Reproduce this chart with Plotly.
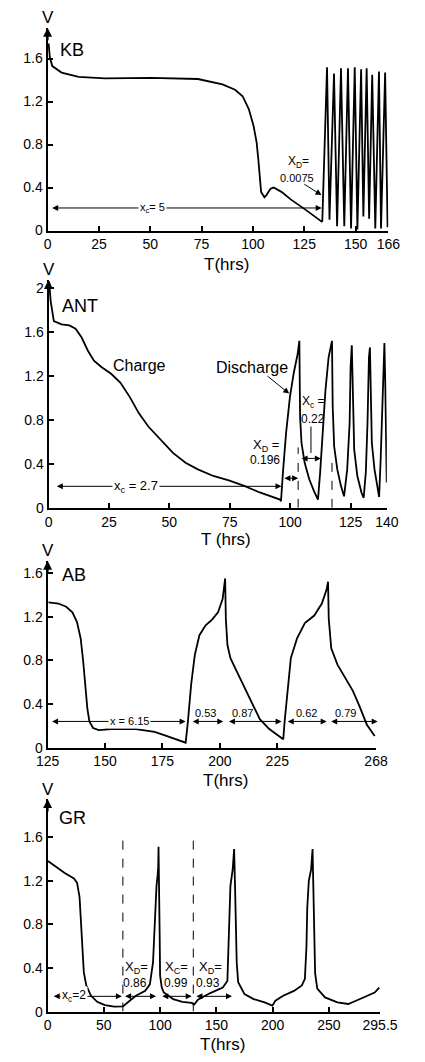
import plotly.graph_objects as go

# ---------------- data ----------------
kb_t = [0.5, 1.1, 2.3, 6.8, 15.1, 27.9, 50.5, 73.2, 85.2, 91.3, 95.0, 98.0, 100.3, 101.8, 102.6,
        103.3, 104.0, 105.6, 106.6, 108.6, 110.1, 113.9, 118.4, 125.9, 133.5,
        133.8, 136.1, 137.3, 139.5, 141.0, 142.9, 144.5, 146.3, 147.8, 149.6, 150.9, 152.7,
        153.8, 155.4, 156.6, 158.1, 159.6, 161.4, 162.4, 164.4, 165.6]
kb_v = [1.74, 1.61, 1.53, 1.47, 1.43, 1.415, 1.42, 1.41, 1.36, 1.31, 1.25, 1.13, 0.975, 0.82, 0.67,
        0.48, 0.36, 0.31, 0.33, 0.39, 0.40, 0.36, 0.29, 0.19, 0.083,
        0.09, 1.52, 0.10, 1.46, 0.04, 1.51, 0.04, 1.51, 0.02, 1.52, 0.01, 1.50,
        0.13, 1.51, 0.11, 1.45, 0.02, 1.48, 0.02, 1.47, 0.03]

ant_t = [0.26, 0.9, 2.2, 5.4, 8.6, 11.2, 13.7, 16.3, 18.8, 22.0, 25.9, 29.7, 33.6, 37.4, 41.3,
         46.4, 51.5, 56.7, 61.8, 68.2, 74.6, 81.0, 87.4, 95.8,
         96.2, 97.1, 98.3, 99.9, 101.5, 103.1, 103.8,
         104.1, 104.7, 106.0, 107.9, 109.9, 111.5,
         112.4, 113.5, 114.6, 115.9, 116.9, 117.3,
         117.6, 118.2, 119.5, 121.0, 122.3,
         123.6, 124.6, 125.0, 125.5,
         125.9, 126.5, 127.8, 129.5, 130.4,
         131.3, 132.0, 132.6, 133.0,
         133.3, 133.8, 134.9, 136.2, 136.8,
         137.4, 138.1, 138.7, 139.0,
         139.4, 139.6, 139.95]
ant_v = [2.06, 1.88, 1.70, 1.67, 1.66, 1.63, 1.55, 1.43, 1.34, 1.28, 1.22, 1.14, 1.01, 0.86, 0.74,
         0.62, 0.50, 0.41, 0.35, 0.29, 0.25, 0.20, 0.14, 0.075,
         0.06, 0.35, 0.68, 1.01, 1.23, 1.40, 1.52,
         0.83, 0.59, 0.41, 0.26, 0.15, 0.075,
         0.32, 0.71, 1.07, 1.37, 1.49, 1.52,
         0.92, 0.56, 0.35, 0.20, 0.105,
         0.35, 0.77, 1.28, 1.48,
         1.07, 0.53, 0.29, 0.14, 0.09,
         0.32, 0.77, 1.37, 1.46,
         1.07, 0.59, 0.35, 0.15, 0.10,
         0.41, 0.92, 1.40, 1.50,
         1.07, 0.59, 0.23]

ab_t = [125.4, 129.7, 133.1, 135.8, 137.8, 139.4, 140.5, 141.5, 142.3, 143.2, 144.8, 147.3, 152.7,
        163.5, 171.6, 177.0, 181.0, 185.1,
        186.1, 187.5, 189.1, 191.1, 193.8, 196.5, 199.2, 201.2, 202.3,
        202.6, 203.3, 204.6, 207.3, 210.7, 214.1, 217.4, 221.5, 225.5, 227.6,
        228.2, 229.6, 230.9, 233.6, 237.0, 241.1, 244.4, 246.5, 247.1,
        247.4, 248.5, 251.2, 254.6, 257.9, 260.6, 264.0, 267.4]
ab_v = [1.33, 1.32, 1.29, 1.24, 1.15, 1.00, 0.79, 0.55, 0.36, 0.24, 0.18, 0.16, 0.17,
        0.17, 0.145, 0.106, 0.076, 0.045,
        0.24, 0.58, 0.85, 1.03, 1.12, 1.17, 1.24, 1.36, 1.55,
        1.18, 0.94, 0.82, 0.70, 0.55, 0.39, 0.26, 0.17, 0.106, 0.076,
        0.24, 0.58, 0.82, 1.00, 1.14, 1.21, 1.32, 1.45, 1.52,
        1.18, 0.91, 0.76, 0.64, 0.52, 0.39, 0.21, 0.106]

gr_t = [0.3, 6.9, 15.2, 23.4, 26.2, 28.4, 29.5, 30.6, 32.2, 34.4, 38.6, 44.1, 51.0, 59.2, 67.0,
        73.0, 78.5, 86.8, 90.9, 93.7, 94.8, 95.6, 96.8, 97.8, 98.3, 98.6,
        99.2, 99.6, 100.0, 101.5, 103.3, 111.6, 119.8, 128.1, 130.3,
        133.6, 144.6, 155.7, 159.8, 161.0, 161.7, 162.5, 164.5, 165.8,
        166.6, 167.2, 168.1, 169.4, 175.0, 183.2, 192.9, 199.8,
        202.5, 209.4, 219.0, 226.0, 228.7, 230.1, 230.8, 232.2, 234.2, 235.5,
        236.2, 236.9, 237.8, 239.7, 246.6, 257.6, 267.3, 274.1, 283.8, 290.7, 294.8]
gr_v = [1.38, 1.33, 1.27, 1.22, 1.18, 1.05, 0.87, 0.63, 0.36, 0.24, 0.145, 0.09, 0.06, 0.045, 0.048,
        0.10, 0.145, 0.19, 0.25, 0.45, 0.75, 1.00, 1.15, 1.25, 1.32, 1.51,
        1.18, 0.72, 0.33, 0.22, 0.175, 0.115, 0.09, 0.08, 0.065,
        0.11, 0.17, 0.22, 0.28, 0.60, 0.95, 1.15, 1.30, 1.49,
        1.15, 0.75, 0.45, 0.27, 0.16, 0.115, 0.085, 0.055,
        0.10, 0.145, 0.19, 0.24, 0.30, 0.60, 0.95, 1.20, 1.30, 1.49,
        1.15, 0.60, 0.35, 0.21, 0.13, 0.085, 0.07, 0.10, 0.145, 0.175, 0.22]

panel_names = ["KB", "ANT", "AB", "GR"]
kb_xticks = [0, 25, 50, 75, 100, 125, 150, 166]
ant_xticks = [0, 25, 50, 75, 100, 125, 140]
ab_xticks = [125, 150, 175, 200, 225, 268]
gr_xticks = [0, 50, 100, 150, 200, 250, 295.5]
v_ticks = [0, 0.4, 0.8, 1.2, 1.6]
v_ticks_ant = [0, 0.4, 0.8, 1.2, 1.6, 2]

# ---------------- layout geometry (pixels) ----------------
W, H = 425, 1062
FONT = "Liberation Sans, Arial, sans-serif"
geo = [
    dict(x0=38.3, x1=405.0, y0=232.3, yt=28.0, s=108.3, xr=[0, 166], xt=kb_xticks, yv=v_ticks),
    dict(x0=39.3, x1=403.3, y0=511.7, yt=282.0, s=110.7, xr=[0, 140], xt=ant_xticks, yv=v_ticks_ant),
    dict(x0=38.3, x1=391.7, y0=753.3, yt=565.0, s=110.0, xr=[125, 268], xt=ab_xticks, yv=v_ticks),
    dict(x0=38.3, x1=396.0, y0=1019.3, yt=805.0, s=110.0, xr=[0, 295.5], xt=gr_xticks, yv=v_ticks),
]
series = [(kb_t, kb_v), (ant_t, ant_v), (ab_t, ab_v), (gr_t, gr_v)]

fig = go.Figure()
layout = dict(width=W, height=H, margin=dict(l=0, r=0, t=0, b=0),
              paper_bgcolor="white", plot_bgcolor="white", showlegend=False,
              font=dict(family=FONT, color="black"))
annotations = []
shapes = []


def fmt(v):
    return "%g" % v


for i, (g, (tt, vv)) in enumerate(zip(geo, series), start=1):
    sx = "" if i == 1 else str(i)
    xa, ya = "x" + sx, "y" + sx
    ytop = (g["y0"] - g["yt"]) / g["s"]
    fig.add_trace(go.Scatter(x=tt, y=vv, mode="lines", xaxis=xa, yaxis=ya,
                             line=dict(color="black", width=1.8), hoverinfo="skip"))
    common = dict(showline=True, linecolor="black", linewidth=2, ticks="inside", ticklen=5,
                  tickwidth=1.5, tickcolor="black", showgrid=False, zeroline=False,
                  tickfont=dict(size=14, family=FONT, color="black"), fixedrange=True)
    layout["xaxis" + sx] = dict(domain=[g["x0"] / W, g["x1"] / W], range=g["xr"], anchor=ya,
                                tickmode="array", tickvals=g["xt"], ticktext=[fmt(v) for v in g["xt"]],
                                **common)
    layout["yaxis" + sx] = dict(domain=[1 - g["y0"] / H, 1 - g["yt"] / H], range=[0, ytop], anchor=xa,
                                tickmode="array", tickvals=g["yv"], ticktext=[fmt(v) for v in g["yv"]],
                                **common)
    # arrow at top of the V axis
    annotations.append(dict(x=g["xr"][0], y=ytop, xref=xa, yref=ya, ax=0, ay=14, text="",
                            showarrow=True, arrowhead=2, arrowsize=0.9, arrowwidth=2, arrowcolor="black"))
    # V label
    annotations.append(dict(x=(g["x0"] + 0.5) / W, y=1 - (g["yt"] - 10) / H, xref="paper", yref="paper",
                            text="V", showarrow=False, font=dict(size=17), xanchor="center", yanchor="middle"))


def txt(i, x, y, s, size=12, bg=None, xanchor="center"):
    sx = "" if i == 1 else str(i)
    d = dict(x=x, y=y, xref="x" + sx, yref="y" + sx, text=s, showarrow=False,
             font=dict(size=size, family=FONT, color="black"), xanchor=xanchor, yanchor="middle")
    if bg:
        d["bgcolor"] = bg
        d["borderpad"] = 1
    annotations.append(d)


def span(i, t0, t1, v):
    sx = "" if i == 1 else str(i)
    annotations.append(dict(x=t1, y=v, ax=t0, ay=v, xref="x" + sx, yref="y" + sx,
                            axref="x" + sx, ayref="y" + sx, text="", showarrow=True,
                            arrowhead=2, arrowsize=1.2, startarrowhead=2, startarrowsize=1.2,
                            arrowside="end+start", arrowwidth=1, arrowcolor="black"))


def arrow(i, t0, v0, t1, v1):
    sx = "" if i == 1 else str(i)
    annotations.append(dict(x=t1, y=v1, ax=t0, ay=v0, xref="x" + sx, yref="y" + sx,
                            axref="x" + sx, ayref="y" + sx, text="", showarrow=True,
                            arrowhead=2, arrowsize=1.2, arrowwidth=1, arrowcolor="black"))


def vline(i, t, v0, v1, dash="dash"):
    sx = "" if i == 1 else str(i)
    shapes.append(dict(type="line", x0=t, x1=t, y0=v0, y1=v1, xref="x" + sx, yref="y" + sx,
                       line=dict(color="black", width=1, dash=dash)))


# panel names
txt(1, 12, 1.68, "KB", size=18)
txt(2, 13, 1.84, "ANT", size=18)
txt(3, 136.6, 1.58, "AB", size=18)
txt(4, 22, 1.77, "GR", size=18)

# ---- panel 1 annotations
span(1, 1.5, 133.5, 0.21)
txt(1, 51, 0.21, "x<sub>c</sub>= 5", size=11, bg="white")
txt(1, 122, 0.64, "X<sub>D</sub>=", size=12)
txt(1, 121.5, 0.49, "0.0075", size=11)
arrow(1, 124.3, 0.44, 133.4, 0.33)

# ---- panel 2 annotations
txt(2, 37.5, 1.30, "Charge", size=16)
txt(2, 84, 1.28, "Discharge", size=16)
arrow(2, 90, 1.21, 99.6, 1.04)
span(2, 2.8, 96.4, 0.196)
txt(2, 36.2, 0.196, "x<sub>c</sub> = 2.7", size=13, bg="white")
txt(2, 90, 0.57, "X<sub>D</sub> =", size=13)
txt(2, 89.5, 0.44, "0.196", size=12)
span(2, 97, 103.3, 0.27)
vline(2, 103.3, 0, 0.55)
vline(2, 117.3, 0, 0.47)
txt(2, 109.5, 0.96, "X<sub>c</sub> =", size=12)
txt(2, 109.3, 0.81, "0.22", size=12)
vline(2, 108.6, 0.5, 0.74, dash="solid")
span(2, 104.1, 112.7, 0.45)

# ---- panel 3 annotations
span(3, 126.3, 185.1, 0.24)
txt(3, 160.8, 0.24, "x = 6.15", size=11, bg="white")
span(3, 187.5, 201.5, 0.24)
txt(3, 193.8, 0.32, "0.53", size=11)
span(3, 203.3, 226.9, 0.24)
txt(3, 210, 0.32, "0.87", size=11)
span(3, 228.9, 246.5, 0.24)
txt(3, 237.7, 0.32, "0.62", size=11)
span(3, 247.8, 268.7, 0.24)
txt(3, 254.6, 0.32, "0.79", size=11)

# ---- panel 4 annotations
vline(4, 66.9, 0, 1.57)
vline(4, 129.5, 0, 1.58)
span(4, 4.1, 66.0, 0.14)
txt(4, 23.4, 0.14, "x<sub>c</sub>=2", size=12, bg="white")
span(4, 67.5, 96.4, 0.14)
txt(4, 79, 0.40, "X<sub>D</sub>=", size=13)
txt(4, 77.5, 0.26, "0.86", size=12)
span(4, 100.6, 128.1, 0.14)
txt(4, 114.3, 0.40, "X<sub>C</sub>=", size=13)
txt(4, 114.3, 0.26, "0.99", size=12)
span(4, 130.9, 163.9, 0.14)
txt(4, 145, 0.40, "X<sub>D</sub>=", size=13)
txt(4, 142.5, 0.26, "0.93", size=12)

# T(hrs) axis titles
for label, xc, yc in [("T(hrs)", 231, 267), ("T (hrs)", 230, 544), ("T(hrs)", 230, 786), ("T(hrs)", 227, 1052)]:
    annotations.append(dict(x=xc / W, y=1 - yc / H, xref="paper", yref="paper", text=label,
                            showarrow=False, font=dict(size=17, family=FONT, color="black"),
                            xanchor="center", yanchor="middle"))

layout["annotations"] = annotations
layout["shapes"] = shapes
fig.update_layout(**layout)
fig.write_html("out.html")
